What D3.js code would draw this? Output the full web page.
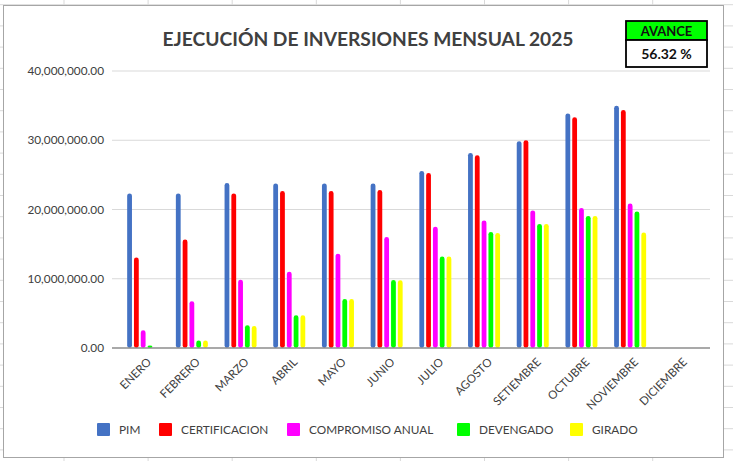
<!DOCTYPE html>
<html>
<head>
<meta charset="utf-8">
<script src="https://cdn.jsdelivr.net/npm/d3@7"></script>
<style>
  body { margin: 0; background: #fff; }
  svg { display: block; font-family: Lato, "Open Sans", sans-serif; }
</style>
</head>
<body>
<svg id="chart" width="733" height="461"></svg>
<script>
/* ---------- data ---------- */
const meses = ["ENERO", "FEBRERO", "MARZO", "ABRIL", "MAYO", "JUNIO", "JULIO",
  "AGOSTO", "SETIEMBRE", "OCTUBRE", "NOVIEMBRE", "DICIEMBRE"];
const series = ["PIM", "CERTIFICACION", "COMPROMISO ANUAL", "DEVENGADO", "GIRADO"];
const colores = ["#4472c4", "#ff0000", "#ff00ff", "#00ff00", "#ffff00"];

const pim  = [22100000, 22100000, 23600000, 23550000, 23550000, 23550000, 25350000, 27950000, 29650000, 33650000, 34750000, 0];
const cert = [12850000, 15450000, 22100000, 22450000, 22450000, 22600000, 25050000, 27600000, 29800000, 33100000, 34150000, 0];
const comp = [2350000, 6550000, 9650000, 10800000, 13400000, 15800000, 17300000, 18200000, 19650000, 20000000, 20650000, 0];
const dev  = [150000, 850000, 3080000, 4500000, 6850000, 9600000, 13000000, 16550000, 17700000, 18850000, 19500000, 0];
const gir  = [0, 850000, 2950000, 4500000, 6850000, 9550000, 13000000, 16400000, 17700000, 18850000, 16450000, 0];
const valores = [pim, cert, comp, dev, gir];

const yTicks = [0, 10000000, 20000000, 30000000, 40000000];
const titulo = "EJECUCIÓN DE INVERSIONES MENSUAL 2025";
const avance = "56.32 %";

/* ---------- setup ---------- */
const svg = d3.select("#chart");
const W = 733, H = 461;

// spreadsheet cell grid behind the chart
const grid = svg.append("g").attr("stroke", "#d9d9d9").attr("stroke-width", 1);
d3.range(64, W, 84.1).forEach((x) =>
  grid.append("line").attr("x1", x).attr("x2", x).attr("y1", 0).attr("y2", H));
d3.range(4.7, H, 21.2).forEach((y) =>
  grid.append("line").attr("x1", 0).attr("x2", W).attr("y1", y).attr("y2", y));

// chart frame
svg.append("rect")
  .attr("x", 3.5).attr("y", 5.5).attr("width", 720).attr("height", 452)
  .attr("fill", "#fff").attr("stroke", "#a6a6a6").attr("stroke-width", 1);

const x = d3.scaleBand().domain(meses).range([112, 710]).paddingInner(0).paddingOuter(0.14);
const xs = d3.scaleBand().domain(series).range([-16, 16]).paddingInner(0.294);
const y = d3.scaleLinear().domain([0, 40000000]).range([348, 71]);

/* --- gridlines & y labels --- */
svg.append("g")
  .selectAll("line")
  .data(yTicks.slice(1))
  .join("line")
  .attr("x1", 112).attr("x2", 710)
  .attr("y1", (d) => y(d)).attr("y2", (d) => y(d))
  .attr("stroke", "#d9d9d9").attr("stroke-width", 1.2);

svg.append("g")
  .selectAll("text")
  .data(yTicks)
  .join("text")
  .attr("x", 104)
  .attr("y", (d) => y(d))
  .attr("dy", "0.35em")
  .attr("text-anchor", "end")
  .attr("font-size", 11.8)
  .attr("fill", "#404040")
  .text((d) => d3.format(",.2f")(d));

/* --- bars --- */
const groups = svg.append("g")
  .selectAll("g")
  .data(meses)
  .join("g")
  .attr("transform", (d) => `translate(${x(d) + x.bandwidth() / 2},0)`);

groups.selectAll("rect")
  .data((m, i) => series.map((s, k) => ({ s, k, v: valores[k][i] })).filter((d) => d.v > 0))
  .join("rect")
  .attr("x", (d) => xs(d.s))
  .attr("width", xs.bandwidth())
  .attr("y", (d) => y(d.v) - 1.5)
  .attr("height", (d) => y(0) - y(d.v) + 1.5)
  .attr("rx", 2.4)
  .attr("fill", (d) => colores[d.k]);

/* --- x axis --- */
svg.append("line")
  .attr("x1", 112).attr("x2", 710)
  .attr("y1", y(0)).attr("y2", y(0))
  .attr("stroke", "#8c8c8c").attr("stroke-width", 1.5);

svg.append("g")
  .selectAll("text")
  .data(meses)
  .join("text")
  .attr("transform", (d) => `translate(${x(d) + x.bandwidth() / 2 + 6},${y(0) + 12}) rotate(-45)`)
  .attr("text-anchor", "end")
  .attr("dy", "0.35em")
  .attr("font-size", 11.5)
  .attr("fill", "#404040")
  .text((d) => d);

/* --- title --- */
svg.append("text")
  .attr("x", 368).attr("y", 46)
  .attr("text-anchor", "middle")
  .attr("font-size", 19)
  .attr("font-weight", "bold")
  .attr("fill", "#404040")
  .attr("textLength", 411)
  .attr("lengthAdjust", "spacingAndGlyphs")
  .text(titulo);

/* --- avance box --- */
const box = svg.append("g");
box.append("rect").attr("x", 626).attr("y", 21).attr("width", 81).attr("height", 19)
  .attr("fill", "#00ff00").attr("stroke", "#000").attr("stroke-width", 1.8);
box.append("rect").attr("x", 626).attr("y", 40).attr("width", 81).attr("height", 27)
  .attr("fill", "#fff").attr("stroke", "#000").attr("stroke-width", 1.8);
box.append("text").attr("x", 666.5).attr("y", 35.5).attr("text-anchor", "middle")
  .attr("font-size", 13).attr("font-weight", "bold").attr("fill", "#111").text("AVANCE");
box.append("text").attr("x", 666.5).attr("y", 59).attr("text-anchor", "middle")
  .attr("font-size", 14).attr("font-weight", "bold").attr("fill", "#111").text(avance);

/* --- legend --- */
const legX = [97, 159, 287, 457, 570];
const leg = svg.append("g")
  .selectAll("g")
  .data(series)
  .join("g")
  .attr("transform", (d, i) => `translate(${legX[i]},423)`);
leg.append("rect").attr("width", 13).attr("height", 13).attr("rx", 1)
  .attr("fill", (d, i) => colores[i]);
leg.append("text").attr("x", 22).attr("y", 7).attr("dy", "0.35em")
  .attr("font-size", 11.8).attr("fill", "#404040").text((d) => d);
</script>
</body>
</html>
